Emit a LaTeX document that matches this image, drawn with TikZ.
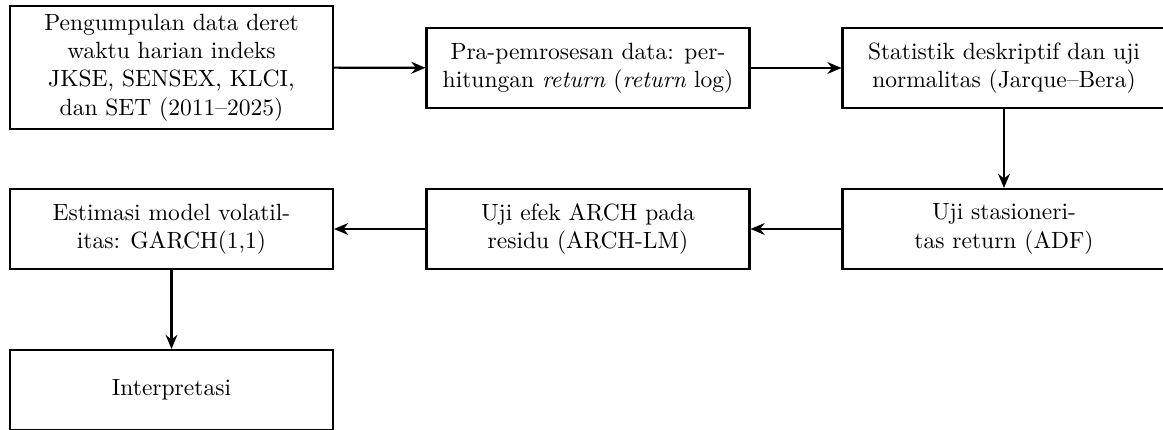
\documentclass[tikz,border=0pt]{standalone}
\usetikzlibrary{arrows.meta}
\begin{document}
\begin{tikzpicture}[x=0.4255pt,y=-0.4255pt,
  box/.style={draw,line width=0.9pt,align=center,minimum width=137.4pt,minimum height=34pt,inner sep=2pt},
  flow/.style={-{Stealth[length=6pt,width=5pt]},line width=0.9pt}]
\useasboundingbox (0,0) rectangle (1163,430);
\node[box,minimum height=52.3pt] (b1) at (171.5,67.5) {Pengumpulan data deret\\waktu harian indeks\\JKSE, SENSEX, KLCI,\\dan SET (2011--2025)};
\node[box] (b2) at (588,68) {Pra-pemrosesan data: per-\\hitungan \emph{return} (\emph{return} log)};
\node[box] (b3) at (1004,68) {Statistik deskriptif dan uji\\normalitas (Jarque--Bera)};
\node[box] (b6) at (1004,229) {Uji stasioneri-\\tas return (ADF)};
\node[box] (b5) at (588,229) {Uji efek ARCH pada\\residu (ARCH-LM)};
\node[box] (b4) at (171.5,229) {Estimasi model volatil-\\itas: GARCH(1,1)};
\node[box] (b7) at (171.5,390) {Interpretasi};
\draw[flow] (b1) -- (b2);
\draw[flow] (b2) -- (b3);
\draw[flow] (b3) -- (b6);
\draw[flow] (b6) -- (b5);
\draw[flow] (b5) -- (b4);
\draw[flow] (b4) -- (b7);
\end{tikzpicture}
\end{document}
